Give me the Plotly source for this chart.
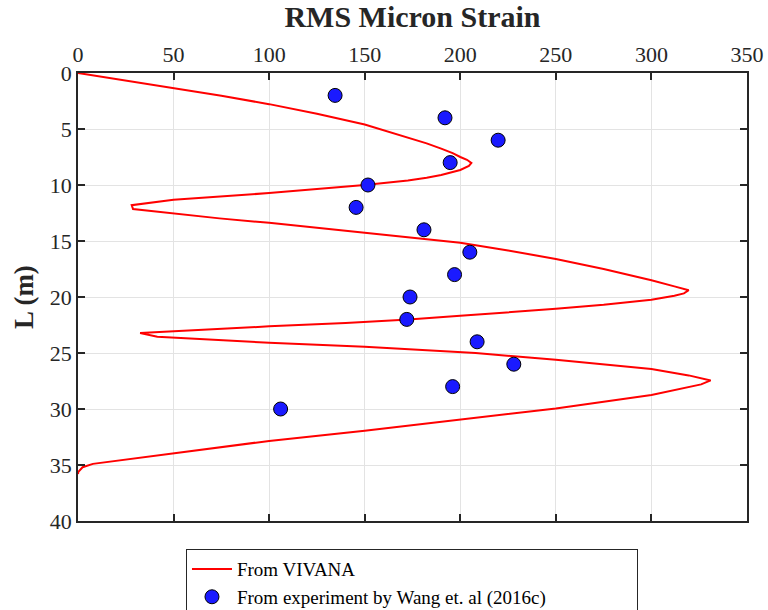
import plotly.graph_objects as go

# VIVANA prediction: RMS micro-strain along the riser length
vivana_strain = [0, 49.8, 75, 100, 125, 150, 172.6, 182.4, 190, 196, 200, 203.5, 205.8,
                 204.5, 200, 190, 182.4, 172.6, 150, 100, 50, 28.1,
                 28.8, 50, 74, 100, 150, 200, 225, 250, 275, 300, 312, 319.5,
                 317, 312, 300, 275, 250, 220, 200, 173, 140, 100, 74, 50, 32.5,
                 41.5, 74, 100, 150, 208, 250, 280, 300, 319.5, 331,
                 326, 300, 250, 200, 150, 100, 50, 20.8, 7.8, 2.4, 0.2, 0]
vivana_depth = [0, 1.35, 2.04, 2.78, 3.63, 4.6, 5.75, 6.28, 6.75, 7.15, 7.5, 7.75, 8.03,
                8.3, 8.66, 9.1, 9.35, 9.6, 10.0, 10.72, 11.32, 11.8,
                12.15, 12.55, 12.98, 13.38, 14.25, 15.15, 15.85, 16.6, 17.5, 18.5, 19.05, 19.4,
                19.68, 19.88, 20.25, 20.7, 21.05, 21.45, 21.68, 22.0, 22.33, 22.62, 22.85, 23.05, 23.22,
                23.55, 23.88, 24.08, 24.45, 25.0, 25.6, 26.1, 26.42, 27.0, 27.45,
                27.8, 28.75, 29.95, 30.97, 31.95, 32.85, 33.93, 34.6, 34.9, 35.2, 35.6, 35.8]

# Experimental measurements (Wang et al., 2016c)
exp_depth = [2, 4, 6, 8, 10, 12, 14, 16, 18, 20, 22, 24, 26, 28, 30]
exp_strain = [134.5, 192, 219.8, 194.7, 151.7, 145.5, 181, 205, 197, 173.7, 172, 208.8, 228, 196, 106]

x_ticks = [0, 50, 100, 150, 200, 250, 300, 350]
y_ticks = [0, 5, 10, 15, 20, 25, 30, 35, 40]

SERIF = "Liberation Serif"
INK = "#262626"

fig = go.Figure()
fig.add_trace(go.Scatter(
    x=vivana_strain, y=vivana_depth, mode="lines", name="From VIVANA",
    line=dict(color="#ff0000", width=2),
))
fig.add_trace(go.Scatter(
    x=exp_strain, y=exp_depth, mode="markers",
    name="From experiment by Wang et. al (2016c)",
    marker=dict(color="#1a1aff", size=14, line=dict(color="#000000", width=1)),
))

axis_common = dict(
    showline=True, linecolor=INK, linewidth=1.5, mirror="ticks",
    ticks="inside", ticklen=7, tickwidth=1.5, tickcolor=INK,
    showgrid=True, gridcolor="#e3e3e3", gridwidth=1, zeroline=False,
    tickfont=dict(family=SERIF, size=22, color=INK),
)

fig.update_layout(
    width=768, height=610,
    margin=dict(l=78, r=21, t=73, b=89, autoexpand=False),
    paper_bgcolor="white", plot_bgcolor="white",
    xaxis=dict(
        axis_common, side="top", range=[0, 350], tickvals=x_ticks,
        title=dict(text="<b>RMS Micron Strain</b>", standoff=6,
                   font=dict(family=SERIF, size=30, color=INK)),
    ),
    yaxis=dict(
        axis_common, range=[40, 0], tickvals=y_ticks,
        title=dict(text="<b>L (m)</b>", standoff=8,
                   font=dict(family=SERIF, size=27, color=INK)),
    ),
    # each entry spans most of the box width so the two entries stack
    legend=dict(
        orientation="h", entrywidth=0.665, entrywidthmode="fraction",
        x=0.1614, y=-0.063, xanchor="left", yanchor="top",
        bgcolor="white", bordercolor=INK, borderwidth=1,
        font=dict(family=SERIF, size=19, color="#000000"),
        tracegroupgap=0, itemwidth=40,
    ),
    showlegend=True,
)

fig.write_html("out.html")
